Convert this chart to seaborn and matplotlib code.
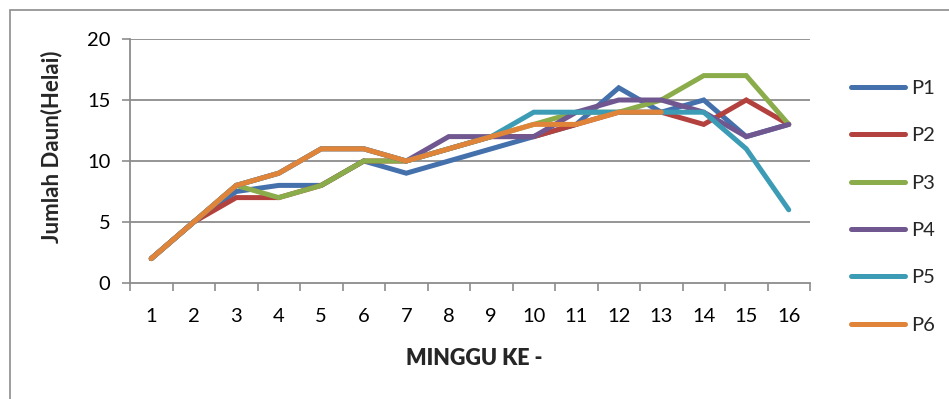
import numpy as np
import pandas as pd
import matplotlib
matplotlib.use("Agg")
import matplotlib.pyplot as plt
from matplotlib.patches import Rectangle
import seaborn as sns

# Weekly leaf counts per treatment
weeks = list(range(1, 17))
p1 = [2, 5, 7.5, 8, 8, 10, 9, 10, 11, 12, 13, 16, 14, 15, 12, 13]
p2 = [2, 5, 7, 7, 8, 10, 10, 11, 12, 12, 13, 14, 14, 13, 15, 13]
p3 = [2, 5, 8, 7, 8, 10, 10, 11, 12, 13, 14, 14, 15, 17, 17, 13]
p4 = [2, 5, 8, 9, 11, 11, 10, 12, 12, 12, 14, 15, 15, 14, 12, 13]
p5 = [2, 5, 8, 9, 11, 11, 10, 11, 12, 14, 14, 14, 14, 14, 11, 6]
p6 = [2, 5, 8, 9, 11, 11, 10, 11, 12, 13, 13, 14, 14, np.nan, np.nan, np.nan]
series_names = ["P1", "P2", "P3", "P4", "P5", "P6"]
y_ticks = [0, 5, 10, 15, 20]

colors = ["#4470AC", "#B3413E", "#8BAC4A", "#71578F", "#3C9CB5", "#E0843A"]

frames = []
for name, vals in zip(series_names, [p1, p2, p3, p4, p5, p6]):
    frames.append(pd.DataFrame({"Minggu": weeks, "Daun": vals, "Perlakuan": name}))
df = pd.concat(frames, ignore_index=True).dropna()

sns.set_theme(style="white")
plt.rcParams["font.family"] = ["Lato", "DejaVu Sans"]

fig = plt.figure(figsize=(9.49, 3.99), dpi=100)
fig.patch.set_facecolor("white")
# outer chart frame
fig.patches.append(Rectangle((10 / 949, -0.01), 1.0, 1 - 10 / 399 + 0.01,
                             transform=fig.transFigure, fill=False,
                             edgecolor="#8c8c8c", linewidth=1.2))

ax = fig.add_axes([130 / 949, 1 - 283 / 399, 680 / 949, 244 / 399])

sns.lineplot(data=df, x="Minggu", y="Daun", hue="Perlakuan",
             hue_order=series_names, palette=colors, sort=False,
             linewidth=3.6, ax=ax, legend=False,
             solid_capstyle="round", solid_joinstyle="miter")

ax.set_xlim(0.5, 16.5)
ax.set_ylim(0, 20)
ax.set_yticks(y_ticks)
ax.set_xticks(weeks)
ax.set_xticks(np.arange(0.5, 17, 1), minor=True)
ax.set_xticklabels([str(w) for w in weeks])
ax.tick_params(axis="x", which="major", length=0, pad=18, labelsize=14.5,
               colors="black")
ax.tick_params(axis="x", which="minor", length=6, width=1.2, color="#8c8c8c",
               direction="out", bottom=True)
ax.tick_params(axis="y", which="major", length=6, width=1.2, color="#8c8c8c",
               direction="out", left=True, pad=8, labelsize=14.5,
               labelcolor="black")

ax.grid(False)
for yv in y_ticks[1:]:
    ax.axhline(yv, color="#8c8c8c", linewidth=1.3, zorder=0)

for side in ["top", "right"]:
    ax.spines[side].set_visible(False)
for side in ["left", "bottom"]:
    ax.spines[side].set_color("#8c8c8c")
    ax.spines[side].set_linewidth(1.3)

ax.set_xlabel("MINGGU KE -", fontsize=15.5, fontweight="heavy")
ax.xaxis.set_label_coords((474 - 130) / 680, (283 - 348) / 244)
ax.set_ylabel("Jumlah Daun(Helai)", fontsize=16, fontweight="bold")
ax.yaxis.set_label_coords((62 - 130) / 680, (283 - 147) / 244)

handles = [plt.Line2D([0], [0], color=c, linewidth=3.6, solid_capstyle="round")
           for c in colors]
fig.legend(handles, series_names, loc="upper left",
           bbox_to_anchor=(843 / 949, 1 - 72 / 399), frameon=False,
           fontsize=14.5, handlelength=2.7, handletextpad=0.3,
           labelspacing=1.5, borderaxespad=0)

fig.savefig("out.png", dpi=100, facecolor="white")
